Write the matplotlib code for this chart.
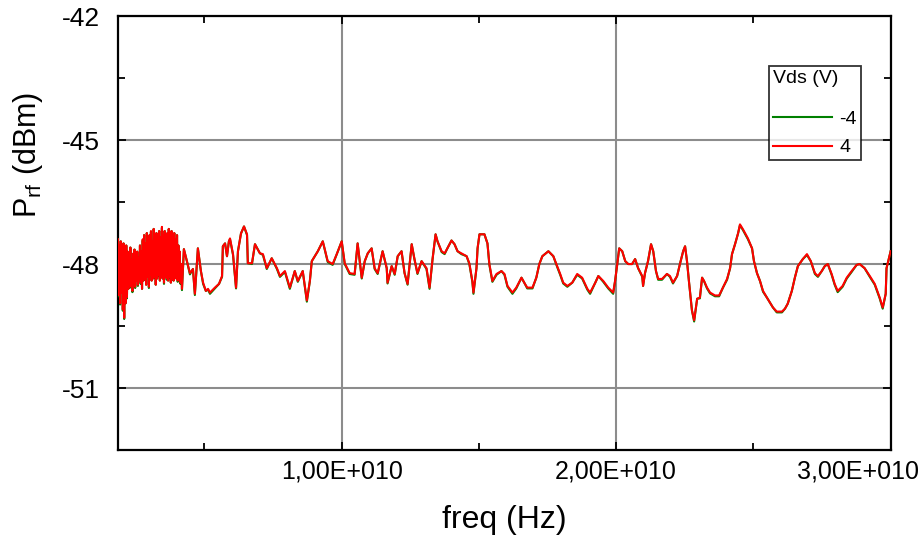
"""
Output power vs frequency for two drain biases (Vds = -4 V and 4 V).
"""

from __future__ import annotations

import matplotlib
matplotlib.use("Agg")
import matplotlib.pyplot as plt
import matplotlib.transforms as mtransforms
import numpy as np
from matplotlib.ticker import FuncFormatter, MultipleLocator

# --- data (frequency in GHz, power in dBm) ---
# both sweeps share the same frequency points
freq_ghz = [
    1.850, 1.875, 1.900, 1.925, 1.950, 1.975, 2.000, 2.025, 2.050, 2.075,
    2.100, 2.125, 2.150, 2.175, 2.200, 2.225, 2.250, 2.275, 2.300, 2.325,
    2.350, 2.375, 2.400, 2.425, 2.450, 2.475, 2.500, 2.525, 2.550, 2.575,
    2.600, 2.625, 2.650, 2.675, 2.700, 2.725, 2.750, 2.775, 2.800, 2.825,
    2.850, 2.875, 2.900, 2.925, 2.950, 2.975, 3.000, 3.025, 3.050, 3.075,
    3.100, 3.125, 3.150, 3.175, 3.200, 3.225, 3.250, 3.275, 3.300, 3.325,
    3.350, 3.375, 3.400, 3.425, 3.450, 3.475, 3.500, 3.525, 3.550, 3.575,
    3.600, 3.625, 3.650, 3.675, 3.700, 3.725, 3.750, 3.775, 3.800, 3.825,
    3.850, 3.875, 3.900, 3.925, 3.950, 3.975, 4.000, 4.025, 4.050, 4.075,
    4.100, 4.125, 4.150,
    4.18, 4.25, 4.36, 4.47, 4.58, 4.65, 4.76, 4.87, 4.95, 5.05, 5.13, 5.20,
    5.38, 5.53, 5.64, 5.67, 5.75, 5.82, 5.89, 5.93, 6.04, 6.15, 6.22, 6.33,
    6.44, 6.55, 6.58, 6.73, 6.84, 7.02, 7.13, 7.27, 7.45, 7.64, 7.75, 7.93,
    8.11, 8.29, 8.40, 8.58, 8.73, 8.84, 8.91, 9.13, 9.31, 9.49, 9.67, 9.82,
    10.00, 10.11, 10.29, 10.47, 10.58, 10.73, 10.84, 10.95, 11.09, 11.20,
    11.31, 11.49, 11.64, 11.67, 11.82, 11.93, 12.04, 12.18, 12.29, 12.40,
    12.55, 12.65, 12.76, 12.91, 13.09, 13.20, 13.31, 13.42, 13.49, 13.64,
    13.75, 13.85, 14.00, 14.11, 14.22, 14.36, 14.55, 14.65, 14.76, 14.80,
    14.91, 14.95, 15.02, 15.20, 15.31, 15.38, 15.49, 15.64, 15.82, 15.93,
    16.04, 16.22, 16.36, 16.55, 16.65, 16.76, 16.95, 17.09, 17.20, 17.31,
    17.53, 17.71, 17.85, 17.96, 18.07, 18.22, 18.40, 18.58, 18.76, 18.95,
    19.05, 19.24, 19.35, 19.53, 19.71, 19.89, 19.96, 20.04, 20.11, 20.22,
    20.33, 20.44, 20.58, 20.69, 20.80, 20.95, 20.98, 21.05, 21.16, 21.27,
    21.35, 21.45, 21.53, 21.67, 21.85, 21.96, 22.07, 22.22, 22.33, 22.44,
    22.51, 22.58, 22.65, 22.76, 22.84, 22.95, 23.05, 23.13, 23.20, 23.31,
    23.42, 23.60, 23.75, 23.89, 24.04, 24.15, 24.22, 24.33, 24.44, 24.51,
    24.62, 24.80, 24.95, 25.02, 25.13, 25.24, 25.35, 25.49, 25.60, 25.71,
    25.85, 26.04, 26.15, 26.25, 26.40, 26.51, 26.62, 26.80, 26.95, 27.09,
    27.24, 27.35, 27.49, 27.60, 27.71, 27.85, 27.96, 28.07, 28.25, 28.40,
    28.58, 28.76, 28.87, 29.05, 29.24, 29.42, 29.60, 29.71, 29.82, 29.85,
    29.93, 30.00,
]

# Vds = 4 V (red, drawn on top)
p_4v = [
    -47.40, -48.75, -47.55, -48.95, -47.45, -48.70, -47.60, -49.10, -47.50,
    -49.30, -47.65, -48.95, -47.55, -48.80, -47.70, -48.60, -47.85, -48.55,
    -47.60, -48.50, -47.90, -48.65, -47.75, -48.45, -47.65, -48.55, -47.80,
    -48.40, -47.70, -48.50, -47.85, -48.35, -47.55, -48.45, -47.70, -48.60,
    -47.40, -48.40, -47.30, -48.35, -47.50, -48.50, -47.25, -48.30, -47.40,
    -48.55, -47.30, -48.25, -47.20, -48.40, -47.45, -48.35, -47.15, -48.30,
    -47.35, -48.50, -47.25, -48.35, -47.40, -48.25, -47.20, -48.40, -47.35,
    -48.30, -47.10, -48.35, -47.30, -48.45, -47.20, -48.30, -47.40, -48.35,
    -47.25, -48.40, -47.15, -48.30, -47.30, -48.45, -47.20, -48.35, -47.35,
    -48.40, -47.25, -48.30, -47.40, -48.35, -47.30, -48.40, -47.55, -48.30,
    -47.70, -48.45, -48.00,
    -48.60, -47.64, -47.93, -48.22, -48.12, -48.72, -47.62, -48.17, -48.45,
    -48.65, -48.60, -48.69, -48.57, -48.48, -48.29, -47.57, -47.50, -47.81,
    -47.45, -47.38, -47.76, -48.57, -47.69, -47.26, -47.09, -47.28, -47.98,
    -47.98, -47.52, -47.74, -47.76, -48.10, -47.86, -48.10, -48.29, -48.17,
    -48.57, -48.17, -48.41, -48.17, -48.88, -48.41, -47.93, -47.69, -47.45,
    -47.93, -48.00, -47.76, -47.45, -47.98, -48.22, -48.24, -47.50, -48.33,
    -47.93, -47.74, -47.62, -48.10, -48.22, -47.69, -48.10, -48.45, -48.05,
    -48.24, -47.81, -47.69, -48.22, -48.48, -47.52, -47.88, -48.22, -47.93,
    -48.10, -48.57, -47.88, -47.28, -47.45, -47.69, -47.74, -47.62, -47.43,
    -47.52, -47.69, -47.74, -47.81, -47.98, -48.41, -48.69, -48.10, -47.62,
    -47.28, -47.28, -47.50, -48.00, -48.41, -48.24, -48.17, -48.24, -48.53,
    -48.69, -48.57, -48.33, -48.45, -48.57, -48.57, -48.33, -48.00, -47.81,
    -47.69, -47.81, -48.05, -48.24, -48.45, -48.53, -48.45, -48.24, -48.33,
    -48.60, -48.69, -48.45, -48.29, -48.41, -48.57, -48.69, -48.41, -48.00,
    -47.62, -47.69, -47.93, -48.00, -48.00, -47.88, -48.10, -48.29, -48.53,
    -48.22, -47.93, -47.52, -47.69, -48.17, -48.36, -48.36, -48.24, -48.29,
    -48.45, -48.29, -47.98, -47.69, -47.57, -47.93, -48.41, -49.12, -49.36,
    -48.84, -48.81, -48.33, -48.41, -48.57, -48.69, -48.76, -48.76, -48.57,
    -48.36, -48.10, -47.76, -47.52, -47.26, -47.04, -47.16, -47.38, -47.62,
    -47.93, -48.22, -48.41, -48.65, -48.81, -48.93, -49.05, -49.15, -49.15,
    -49.08, -48.96, -48.65, -48.33, -48.05, -47.88, -47.76, -47.93, -48.22,
    -48.29, -48.17, -48.05, -48.00, -48.24, -48.48, -48.65, -48.53, -48.33,
    -48.17, -48.02, -48.00, -48.10, -48.29, -48.48, -48.81, -49.05, -48.72,
    -48.10, -47.88, -47.69,
]

# Vds = -4 V (green, almost identical, peeks out under the red trace)
p_m4v = [
    -47.40, -48.78, -47.55, -48.98, -47.45, -48.70, -47.60, -49.13, -47.50,
    -49.33, -47.65, -48.95, -47.55, -48.83, -47.70, -48.60, -47.85, -48.58,
    -47.60, -48.50, -47.90, -48.68, -47.75, -48.45, -47.65, -48.58, -47.80,
    -48.40, -47.70, -48.53, -47.85, -48.35, -47.55, -48.48, -47.70, -48.60,
    -47.43, -48.40, -47.30, -48.38, -47.50, -48.50, -47.25, -48.30, -47.40,
    -48.58, -47.30, -48.25, -47.23, -48.40, -47.45, -48.35, -47.15, -48.33,
    -47.35, -48.50, -47.25, -48.35, -47.40, -48.28, -47.20, -48.40, -47.35,
    -48.30, -47.13, -48.35, -47.30, -48.48, -47.20, -48.30, -47.40, -48.38,
    -47.25, -48.40, -47.15, -48.33, -47.30, -48.45, -47.20, -48.38, -47.35,
    -48.40, -47.25, -48.33, -47.40, -48.35, -47.30, -48.43, -47.55, -48.30,
    -47.70, -48.48, -48.00,
    -48.63, -47.64, -47.93, -48.25, -48.12, -48.75, -47.62, -48.17, -48.48,
    -48.65, -48.62, -48.72, -48.59, -48.48, -48.31, -47.57, -47.50, -47.81,
    -47.45, -47.40, -47.78, -48.59, -47.69, -47.26, -47.09, -47.30, -47.98,
    -48.00, -47.52, -47.74, -47.78, -48.12, -47.86, -48.12, -48.31, -48.19,
    -48.60, -48.17, -48.43, -48.17, -48.91, -48.41, -47.93, -47.69, -47.45,
    -47.95, -48.02, -47.76, -47.45, -48.00, -48.24, -48.26, -47.50, -48.35,
    -47.93, -47.74, -47.62, -48.12, -48.24, -47.69, -48.10, -48.47, -48.05,
    -48.26, -47.81, -47.69, -48.22, -48.50, -47.52, -47.88, -48.24, -47.93,
    -48.12, -48.60, -47.88, -47.28, -47.45, -47.71, -47.76, -47.62, -47.43,
    -47.52, -47.69, -47.76, -47.81, -48.00, -48.43, -48.72, -48.10, -47.62,
    -47.28, -47.28, -47.50, -48.02, -48.43, -48.26, -48.17, -48.26, -48.55,
    -48.72, -48.59, -48.33, -48.45, -48.59, -48.59, -48.33, -48.00, -47.81,
    -47.69, -47.81, -48.07, -48.26, -48.47, -48.55, -48.45, -48.26, -48.35,
    -48.62, -48.72, -48.45, -48.29, -48.43, -48.59, -48.72, -48.41, -48.00,
    -47.62, -47.69, -47.93, -48.00, -48.00, -47.88, -48.10, -48.31, -48.53,
    -48.22, -47.93, -47.52, -47.69, -48.17, -48.38, -48.38, -48.24, -48.31,
    -48.47, -48.29, -47.98, -47.69, -47.57, -47.93, -48.41, -49.12, -49.39,
    -48.84, -48.83, -48.33, -48.41, -48.59, -48.71, -48.78, -48.78, -48.57,
    -48.38, -48.10, -47.76, -47.52, -47.26, -47.06, -47.18, -47.40, -47.62,
    -47.93, -48.22, -48.41, -48.67, -48.81, -48.93, -49.05, -49.17, -49.17,
    -49.08, -48.96, -48.65, -48.33, -48.05, -47.88, -47.78, -47.93, -48.24,
    -48.31, -48.17, -48.05, -48.00, -48.26, -48.50, -48.68, -48.55, -48.35,
    -48.19, -48.02, -48.00, -48.10, -48.31, -48.50, -48.83, -49.08, -48.72,
    -48.10, -47.88, -47.69,
]

series_labels = ["-4", "4"]
legend_title = "Vds (V)"


def sci_comma(x, pos):
    # 1e10 -> "1,00E+010"
    if x == 0:
        return "0"
    exp = int(np.floor(np.log10(abs(x))))
    mant = x / 10 ** exp
    return f"{mant:.2f}".replace(".", ",") + f"E+{exp:03d}"


def main() -> None:
    plt.rcParams["font.family"] = ["Liberation Sans", "DejaVu Sans"]
    plt.rcParams["axes.unicode_minus"] = False
    plt.rcParams["mathtext.fontset"] = "custom"
    plt.rcParams["mathtext.rm"] = "Liberation Sans"

    fig = plt.figure(figsize=(9.22, 5.37), dpi=100)
    ax = fig.add_axes([0.128, 0.162, 0.838, 0.808])

    freq_hz = np.array(freq_ghz) * 1e9
    ax.plot(freq_hz, p_m4v, color="#008000", lw=1.5,
            label=series_labels[0], zorder=3)
    ax.plot(freq_hz, p_4v, color="#ff0000", lw=1.5,
            label=series_labels[1], zorder=4)

    ax.set_xlim(1.85e9, 3.0e10)
    ax.set_ylim(-52.5, -42)
    ax.xaxis.set_major_locator(MultipleLocator(1e10))
    ax.xaxis.set_minor_locator(MultipleLocator(5e9))
    ax.yaxis.set_major_locator(MultipleLocator(3))
    ax.yaxis.set_minor_locator(MultipleLocator(1.5))
    ax.xaxis.set_major_formatter(FuncFormatter(sci_comma))
    ax.yaxis.set_major_formatter(FuncFormatter(lambda v, p: f"{v:.0f}"))

    ax.grid(True, which="major", color="#8c8c8c", lw=1.5)
    ax.tick_params(which="both", direction="in", top=True, right=True,
                   width=1.3, colors="black")
    ax.tick_params(which="major", length=6)
    ax.tick_params(which="minor", length=5)
    ax.tick_params(axis="x", which="major", labelsize=18, pad=7)
    ax.tick_params(axis="y", which="major", labelsize=19, pad=13)
    for sp in ax.spines.values():
        sp.set_linewidth(1.6)

    ax.set_xlabel("freq (Hz)", fontsize=23, labelpad=15)
    ax.set_ylabel(r"P$_{\rm rf}$ (dBm)", fontsize=22)
    ax.yaxis.set_label_coords(-0.094, 0.68)

    leg = ax.legend(title=legend_title, loc="upper left",
                    bbox_to_anchor=(0.843, 0.885), frameon=True, fancybox=False,
                    fontsize=14, title_fontsize=14, handlelength=3.0,
                    handletextpad=0.4, borderpad=0.2, labelspacing=0.55,
                    borderaxespad=0)
    leg.get_frame().set_edgecolor("black")
    leg.get_frame().set_linewidth(1.3)
    leg._legend_box.align = "left"
    leg._legend_box.sep = 17

    # keep the last x label inside the figure, like the original
    fig.canvas.draw()
    shift = mtransforms.ScaledTranslation(-33 / 100, 0, fig.dpi_scale_trans)
    for tick in ax.xaxis.get_major_ticks():
        if abs(tick.get_loc() - 3e10) < 1e8:
            tick.label1.set_transform(tick.label1.get_transform() + shift)

    fig.savefig("out.png", dpi=100)
    plt.close(fig)


if __name__ == "__main__":
    main()
